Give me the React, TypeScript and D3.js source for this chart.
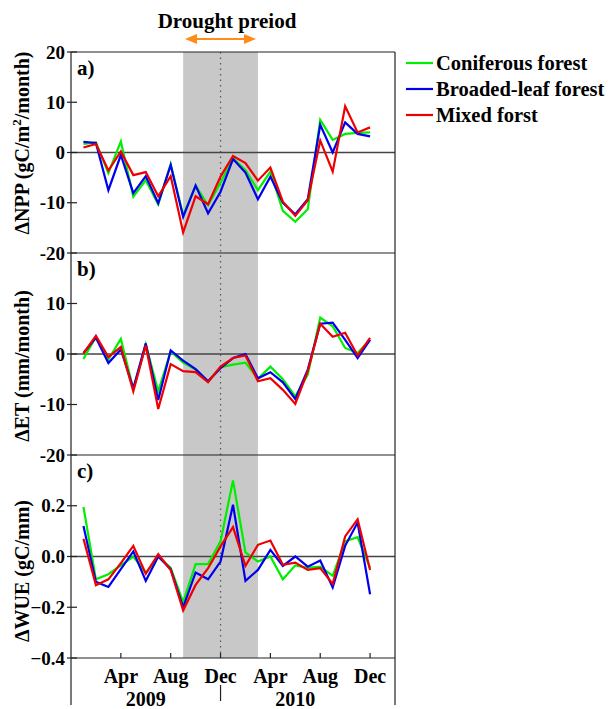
import * as d3 from 'd3'

// months Jan 2009 .. Dec 2010
const months = d3.range(24)
const monthTicks = [3, 7, 11, 15, 19, 23]
const monthLabels = ['Apr', 'Aug', 'Dec', 'Apr', 'Aug', 'Dec']
const years = ['2009', '2010']
const yearCenters = [5, 17]

const seriesNames = ['Coniferous forest', 'Broaded-leaf forest', 'Mixed forst']
const seriesColors = ['#00ee00', '#0000ee', '#ee0000']

// panel a: dNPP
const nppConif = [1.7, 2, -4.1, 2.2, -8.8, -5.5, -10.3, -2.3, -12.5, -6.6, -10.5, -6, -1.1, -3.5, -7.5, -3.8, -11.6, -13.8, -11.3, 6.5, 2.5, 3.7, 3.9, 4]
const nppBroad = [2.1, 1.9, -7.5, -0.5, -8.1, -4.7, -10.1, -2.5, -12.8, -6.6, -12.1, -7.8, -1.3, -4, -9.3, -4.8, -10, -12.3, -9.3, 5.5, 0, 6, 3.7, 3.2]
const nppMixed = [1, 1.7, -3.6, 0.2, -4.5, -3.9, -8.7, -4.7, -15.9, -8.7, -10.3, -4.8, -0.7, -2.1, -5.6, -3, -9.8, -12.6, -9.5, 2.4, -3.8, 9.2, 4, 5]

// panel b: dET
const etConif = [-1, 3.4, -1.1, 3, -7, 1.9, -7.4, 0.5, -1.7, -3.1, -5.4, -2.6, -2.1, -1.7, -4.9, -2.5, -5, -8.4, -4.1, 7.2, 5.5, 1.2, 0.2, 2.8]
const etBroad = [0.2, 3.2, -1.8, 0.9, -6.8, 2.1, -9.1, 0.7, -1.3, -3, -5.4, -2.8, -0.8, 0, -4.8, -3.6, -5.6, -8.9, -3.1, 6, 6.2, 2.8, -0.8, 2.8]
const etMixed = [0.1, 3.6, -0.6, 1.4, -7.4, 1.7, -10.9, -2, -3.4, -3.6, -5.6, -2.5, -0.8, -0.3, -5.4, -4.8, -7.1, -9.9, -3.4, 6, 3.4, 4.2, -0.3, 3.2]

// panel c: dWUE
const wueConif = [0.195, -0.09, -0.07, -0.035, 0, -0.065, 0, -0.045, -0.18, -0.03, -0.03, 0.06, 0.3, 0.016, -0.02, 0, -0.09, -0.035, -0.045, -0.04, -0.076, 0.06, 0.076, -0.045]
const wueBroad = [0.12, -0.1, -0.12, -0.05, 0.02, -0.096, 0, -0.05, -0.2, -0.063, -0.09, -0.02, 0.204, -0.096, -0.053, 0.026, -0.037, 0, -0.04, -0.016, -0.122, 0.042, 0.134, -0.149]
const wueMixed = [0.07, -0.113, -0.09, -0.026, 0.042, -0.068, 0.009, -0.053, -0.213, -0.112, -0.046, 0.04, 0.116, -0.037, 0.046, 0.063, -0.033, -0.024, -0.053, -0.046, -0.108, 0.079, 0.147, -0.053]

const droughtStart = 8
const droughtEnd = 14
const dividerMonth = 11

const font = "'Liberation Serif', 'Times New Roman', serif"

const App = () => {
  const width = 608
  const height = 709
  const left = 71
  const right = 395

  const x = d3.scaleLinear().domain([-1, 25]).range([left, right])

  const panels = [
    { key: 'a', top: 52, bottom: 253, domain: [-20, 20], ticks: [20, 10, 0, -10, -20], fmt: (d: number) => String(d),
      data: [nppConif, nppBroad, nppMixed] },
    { key: 'b', top: 253, bottom: 455, domain: [-20, 20], ticks: [10, 0, -10, -20], fmt: (d: number) => String(d),
      data: [etConif, etBroad, etMixed] },
    { key: 'c', top: 455, bottom: 658, domain: [-0.4, 0.4], ticks: [0.2, 0, -0.2, -0.4], fmt: d3.format('.1f'),
      data: [wueConif, wueBroad, wueMixed] },
  ]

  const plotTop = panels[0].top
  const plotBottom = panels[2].bottom

  return (
    <svg width={width} height={height} style={{ position: 'absolute', left: 0, top: 0, background: '#fff' }}
      fontFamily={font} fontWeight='bold'>
      {/* drought band and divider */}
      <rect x={x(droughtStart)} y={plotTop} width={x(droughtEnd) - x(droughtStart)} height={plotBottom - plotTop} fill='#c8c8c8' />
      <line x1={x(dividerMonth)} x2={x(dividerMonth)} y1={plotTop} y2={plotBottom} stroke='#555' strokeWidth={1.2} strokeDasharray='1.5,4' />

      {panels.map((p) => {
        const y = d3.scaleLinear().domain(p.domain).range([p.bottom, p.top])
        const line = d3.line<number>().x((_, i) => x(months[i])).y(d => y(d))
        return (
          <g key={p.key}>
            <line x1={left} x2={right} y1={y(0)} y2={y(0)} stroke='#444' strokeWidth={1.5} />
            {p.data.map((vals, i) => (
              <path key={i} d={line(vals) || ''} fill='none' stroke={seriesColors[i]} strokeWidth={2.2} strokeLinejoin='miter' />
            ))}
            {p.ticks.map(t => (
              <g key={t} transform={`translate(0,${y(t)})`}>
                <line x1={left - 4} x2={left + 6} stroke='#222' strokeWidth={1.2} />
                <text x={left - 6} dy='0.35em' textAnchor='end' fontSize={19}>{p.fmt(t)}</text>
              </g>
            ))}
            <text x={left + 6} y={p.top + 23} fontSize={21}>{p.key})</text>
            <line x1={left} x2={right} y1={p.bottom} y2={p.bottom} stroke='#222' strokeWidth={1.2} />
          </g>
        )
      })}

      {/* y axis titles */}
      <text transform='translate(29,143) rotate(-90)' textAnchor='middle' fontSize={20}>
        ΔNPP (gC/m<tspan dy={-8} fontSize={13}>2</tspan><tspan dy={8}>/month)</tspan>
      </text>
      <text transform='translate(29,366) rotate(-90)' textAnchor='middle' fontSize={20}>
        ΔET (mm/month)
      </text>
      <text transform='translate(29,571) rotate(-90)' textAnchor='middle' fontSize={20}>
        ΔWUE (gC/mm)
      </text>

      {/* frame */}
      <line x1={left} x2={right} y1={plotTop} y2={plotTop} stroke='#222' strokeWidth={1.2} />
      <line x1={left} x2={left} y1={plotTop} y2={705} stroke='#222' strokeWidth={1.2} />
      <line x1={right} x2={right} y1={plotTop} y2={705} stroke='#222' strokeWidth={1.2} />

      {/* x axis */}
      {monthTicks.map((m, i) => (
        <g key={i} transform={`translate(${x(m)},${plotBottom})`}>
          <line y1={0} y2={-5} stroke='#222' strokeWidth={1.2} />
          <text y={25} textAnchor='middle' fontSize={20}>{monthLabels[i]}</text>
        </g>
      ))}
      <line x1={x(dividerMonth)} x2={x(dividerMonth)} y1={685} y2={701} stroke='#222' strokeWidth={1.2} />
      {years.map((yr, i) => (
        <text key={yr} x={x(yearCenters[i])} y={706} textAnchor='middle' fontSize={20}>{yr}</text>
      ))}

      {/* drought annotation */}
      <text x={227} y={28} textAnchor='middle' fontSize={21}>Drought preiod</text>
      <line x1={194} x2={247} y1={39} y2={39} stroke='#ff8c1a' strokeWidth={2} />
      <path d='M185,39 L197,34 L197,44 Z' fill='#ff8c1a' />
      <path d='M256,39 L244,34 L244,44 Z' fill='#ff8c1a' />

      {/* legend */}
      {seriesNames.map((name, i) => (
        <g key={name} transform={`translate(406,${63 + i * 26})`}>
          <line x1={0} x2={27} stroke={seriesColors[i]} strokeWidth={2.2} />
          <text x={30} dy='0.35em' fontSize={20.5}>{name}</text>
        </g>
      ))}
    </svg>
  )
}

export default App
